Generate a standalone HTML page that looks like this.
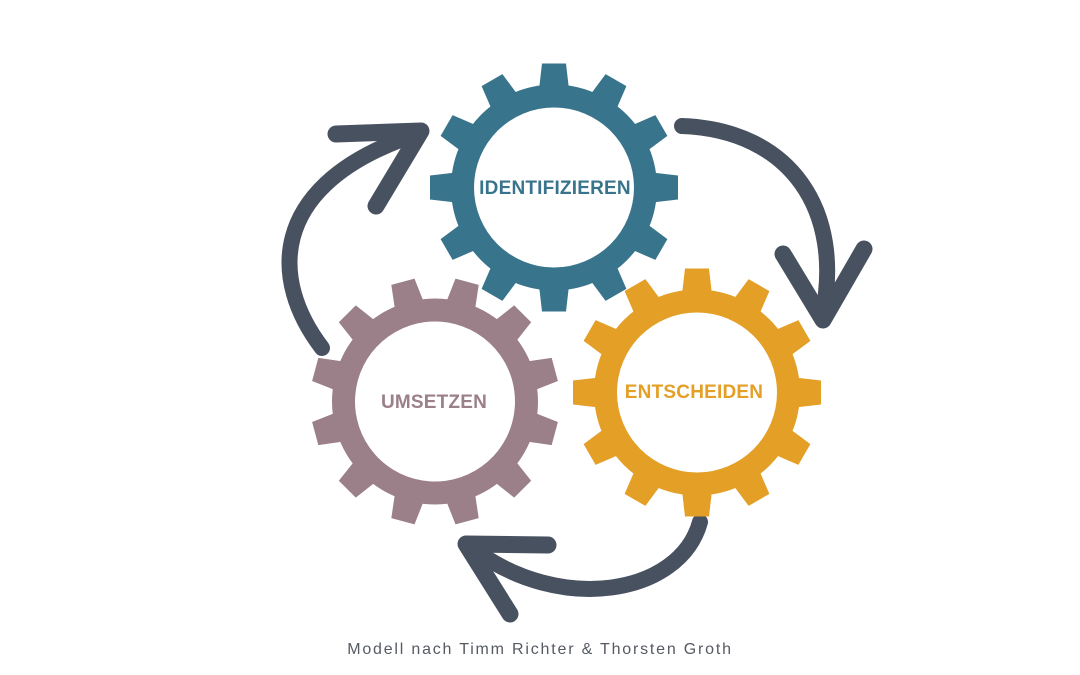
<!DOCTYPE html>
<html><head><meta charset="utf-8"><style>
html,body{margin:0;padding:0;background:#fff;}
svg{display:block;}
</style></head><body>
<svg width="1080" height="675" viewBox="0 0 1080 675" xmlns="http://www.w3.org/2000/svg">
<defs>
<g id="gear">
<circle r="103" />
<g>
<polygon points="-15,-98 15,-98 12,-124 -12,-124"/>
<polygon points="-15,-98 15,-98 12,-124 -12,-124" transform="rotate(30)"/>
<polygon points="-15,-98 15,-98 12,-124 -12,-124" transform="rotate(60)"/>
<polygon points="-15,-98 15,-98 12,-124 -12,-124" transform="rotate(90)"/>
<polygon points="-15,-98 15,-98 12,-124 -12,-124" transform="rotate(120)"/>
<polygon points="-15,-98 15,-98 12,-124 -12,-124" transform="rotate(150)"/>
<polygon points="-15,-98 15,-98 12,-124 -12,-124" transform="rotate(180)"/>
<polygon points="-15,-98 15,-98 12,-124 -12,-124" transform="rotate(210)"/>
<polygon points="-15,-98 15,-98 12,-124 -12,-124" transform="rotate(240)"/>
<polygon points="-15,-98 15,-98 12,-124 -12,-124" transform="rotate(270)"/>
<polygon points="-15,-98 15,-98 12,-124 -12,-124" transform="rotate(300)"/>
<polygon points="-15,-98 15,-98 12,-124 -12,-124" transform="rotate(330)"/>
</g>
<circle r="80" fill="#fff"/>
</g>
</defs>

<g fill="none" stroke="#48515f" stroke-linecap="round" stroke-linejoin="round">
<path d="M322,348 C270,280 270,190 400,140" stroke-width="16"/>
<path d="M336,134 L421,131 L376,206" stroke-width="17"/>
<path d="M682,126 C790,130 845,210 822,318" stroke-width="16"/>
<path d="M783,254 L823,320 L864,249" stroke-width="17"/>
<path d="M700,522 C680,595 560,615 472,548" stroke-width="16"/>
<path d="M548,545 L466,544 L510,614" stroke-width="17"/>
</g>

<use href="#gear" transform="translate(554,187.5)" fill="#38748b"/>
<use href="#gear" transform="translate(697,392.5)" fill="#e39f26"/>
<use href="#gear" transform="translate(435,401.5) rotate(15)" fill="#9b7f89"/>

<g font-family="'Liberation Sans',sans-serif" font-weight="bold" font-size="19" text-anchor="middle" letter-spacing="0.2">
<text x="555" y="194" fill="#38748b">IDENTIFIZIEREN</text>
<text x="694" y="398" fill="#e39f26">ENTSCHEIDEN</text>
<text x="434" y="408" fill="#9b7f89">UMSETZEN</text>
</g>
<text x="540" y="654" font-family="'Liberation Sans',sans-serif" font-size="16" fill="#555a63" text-anchor="middle" letter-spacing="1.8">Modell nach Timm Richter &amp; Thorsten Groth</text>
</svg>
</body></html>
